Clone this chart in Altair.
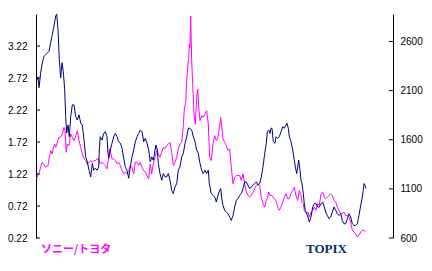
import altair as alt
import pandas as pd

# ---- data (x = time step, values in axis units) ----
ratio_t = [0.7, 2, 3.3, 4.7, 6.3, 7.3, 9.7, 12, 13.3, 14.7, 16.3, 17.3, 18.7, 19.7, 21.3, 23, 24.7, 26.3, 28, 29,
           30.3, 31.3, 33, 34.7, 36.3, 38, 39.7, 41.3, 43, 44.7, 46.3, 48, 49.7, 51.3, 53, 54.7, 56.3, 57.7, 59.3, 61,
           62.7, 64.3, 66, 67.7, 69.3, 71, 72.7, 73.7, 75, 76, 77.7, 79.3, 81, 82.7, 84.3, 86, 87.7, 89.3, 91, 92.7,
           94.3, 96, 97.7, 99.3, 101, 102.7, 104.3, 106, 107.7, 109.3, 111, 112.7, 114.3, 115.7, 117.3, 119, 120.7,
           122.3, 124, 125.7, 127.3, 129, 130.7, 132.3, 134, 135.7, 137.3, 139, 140.7, 142.3, 144, 145.7, 147.3,
           148.3, 149.7, 150.7, 151.7, 152.7, 153.3, 154, 154.7, 155.7, 156.7, 158, 159.3, 160.7, 161.7, 163, 164,
           165.7, 167.3, 169, 170.7, 172.3, 173.7, 175.3, 177, 178.7, 180.3, 182, 183.7, 184.7, 186, 187, 188.7,
           190.3, 192, 193.7, 195.3, 197, 198.7, 200.3, 202, 203.7, 205.3, 207, 208.7, 210.3, 212, 213.7, 215.3,
           217, 218.7, 220.3, 222, 223.7, 225.3, 227, 228.7, 230.3, 231.7, 232.7, 234, 236, 238.3, 240, 241.7,
           243.3, 245, 246.7, 248.3, 250, 251.7, 253.3, 255, 256.7, 258.3, 260, 261.7, 263.3, 265, 266, 267.3,
           268.3, 269.3, 270.7, 272, 273.3, 275, 276.7, 278.3, 280, 281.7, 283.3, 285, 286.7, 288.3, 289.7, 291.3,
           293, 294.7, 296.3, 298, 299.7, 301.3, 303, 304.7, 306.3, 308, 309.7, 311.3, 313, 314.7, 316.3, 318,
           319.7, 321.3, 323, 324.7, 326.3, 328, 329.3]
ratio_v = [1.145, 1.223, 1.248, 1.326, 1.404, 1.379, 1.326, 1.352, 1.481, 1.586, 1.534, 1.637, 1.690, 1.637, 1.715,
           1.793, 1.793, 1.846, 1.948, 1.897, 1.559, 1.690, 1.663, 1.846, 1.793, 1.741, 1.819, 1.897, 1.741, 1.637,
           1.534, 1.456, 1.430, 1.379, 1.404, 1.430, 1.404, 1.430, 1.430, 1.456, 1.456, 1.379, 1.404, 1.379, 1.352,
           1.301, 1.481, 1.612, 1.534, 1.456, 1.456, 1.430, 1.379, 1.404, 1.352, 1.274, 1.223, 1.248, 1.223, 1.274,
           1.352, 1.326, 1.223, 1.404, 1.404, 1.352, 1.404, 1.326, 1.274, 1.248, 1.196, 1.145, 1.379, 1.223, 1.379,
           1.481, 1.586, 1.534, 1.481, 1.559, 1.637, 1.612, 1.663, 1.690, 1.715, 1.559, 1.352, 1.404, 1.481, 1.612,
           1.690, 1.715, 1.975, 2.235, 2.338, 2.676, 2.883, 3.038, 3.247, 3.194, 3.687, 2.987, 2.624, 2.157, 2.001,
           2.416, 2.546, 2.208, 2.053, 2.131, 2.104, 2.157, 2.208, 2.001, 1.481, 1.430, 1.690, 1.819, 1.741, 1.793,
           1.975, 2.104, 1.924, 1.768, 1.715, 1.663, 1.586, 1.612, 1.326, 1.067, 1.170, 1.196, 1.196, 1.196, 1.119,
           1.223, 1.067, 0.937, 0.885, 0.859, 0.885, 0.937, 0.989, 1.041, 1.067, 1.041, 0.859, 0.756, 0.703, 0.807,
           0.859, 0.937, 0.885, 0.885, 0.834, 0.807, 0.703, 0.652, 0.703, 0.781, 0.859, 0.911, 0.834, 0.834, 0.911,
           0.963, 1.014, 0.885, 0.807, 0.963, 0.885, 0.781, 0.756, 0.652, 0.625, 0.600, 0.625, 0.547, 0.625, 0.652,
           0.703, 0.652, 0.756, 0.729, 0.911, 0.937, 0.859, 0.834, 0.859, 0.885, 0.911, 0.885, 0.807, 0.781, 0.703,
           0.652, 0.600, 0.600, 0.625, 0.574, 0.574, 0.547, 0.469, 0.340, 0.314, 0.289, 0.236, 0.262, 0.314, 0.340,
           0.340, 0.314]

topix_t = [0.7, 2, 3, 4.7, 6.3, 8, 9.7, 13, 14.7, 16.3, 18, 19.7, 20.7, 22, 23.3, 24.7, 26, 27.3, 28.7, 29.7, 30.7,
           32, 33.3, 34.7, 36.3, 38, 39.7, 41.3, 43, 44.7, 46.3, 48, 49.7, 51.3, 53, 54.7, 56.3, 57.7, 59.3, 61, 62.7,
           63.3, 64.3, 66, 67.7, 69.3, 71, 72, 72.7, 74.3, 76, 77.7, 79.3, 81, 82.7, 84.3, 86, 87.7, 89.3, 91, 92.7,
           94.3, 96, 97.7, 99.3, 101, 102.7, 104.3, 106, 107.7, 109.3, 111, 112.7, 114.3, 115.7, 117.3, 119, 120,
           121.3, 122.3, 124, 125.7, 127.3, 129, 130.7, 132.3, 134, 135.7, 137.3, 139, 140.7, 142.3, 144, 145.7,
           147.3, 149, 150.7, 152.3, 154, 155.7, 157.3, 159, 160.7, 162.3, 164, 165.7, 167.3, 169, 170.7, 172.3,
           173.3, 175.3, 177, 178.7, 180.3, 182, 183.7, 184.7, 186, 187, 188.7, 190.3, 192, 193.7, 195.3, 197,
           198.7, 200.3, 202, 203.7, 205.3, 207, 208.7, 210.3, 212, 213.7, 215.3, 217, 218.7, 220.3, 222, 223.7,
           225.3, 227, 228.7, 230.3, 231.3, 232.7, 234, 235, 236, 237.3, 239, 240, 241.7, 243.3, 245, 246.7, 248.3,
           250, 251, 252.3, 253.3, 255, 256.7, 258.3, 259.3, 260.7, 261.7, 262.7, 264, 265, 266, 267.3, 268.3,
           269.3, 270.7, 272, 273.3, 275, 276.7, 278.3, 280, 281.7, 283.3, 285, 286.7, 288.3, 289.7, 291.3, 293,
           294.7, 296.3, 298, 299.7, 301.3, 303, 304.7, 306.3, 308, 309.7, 311.3, 313, 314.7, 316.3, 318, 319.7,
           321.3, 323, 324.7, 326.3, 327.3, 328, 329, 330]
topix_v = [2200, 2240, 2130, 2282, 2384, 2449, 2466, 2500, 2589, 2671, 2755, 2860, 2878, 2722, 2415, 2231, 2384, 2295,
           2108, 1835, 1668, 1750, 1631, 1835, 1955, 1955, 1835, 1801, 1853, 1771, 1750, 1597, 1426, 1375, 1290, 1222,
           1359, 1290, 1311, 1290, 1324, 1495, 1631, 1597, 1665, 1682, 1631, 1464, 1413, 1495, 1566, 1631, 1665, 1631,
           1580, 1566, 1515, 1413, 1324, 1290, 1208, 1324, 1426, 1495, 1580, 1631, 1665, 1699, 1682, 1580, 1614, 1566,
           1495, 1375, 1426, 1392, 1495, 1546, 1495, 1359, 1256, 1188, 1256, 1222, 1222, 1256, 1188, 1086, 1052, 1120,
           1154, 1290, 1324, 1426, 1461, 1563, 1631, 1717, 1717, 1699, 1631, 1580, 1495, 1461, 1359, 1290, 1256, 1290,
           1256, 1290, 1154, 1052, 1035, 1017, 966, 1035, 1086, 1103, 983, 932, 881, 864, 847, 813, 779, 830, 915,
           983, 1001, 1035, 1052, 1103, 1171, 1171, 1137, 1103, 1120, 1137, 1154, 1171, 1137, 1154, 1222, 1324, 1461,
           1563, 1682, 1699, 1665, 1717, 1717, 1580, 1563, 1631, 1614, 1631, 1682, 1733, 1717, 1750, 1768, 1717, 1631,
           1580, 1495, 1392, 1324, 1256, 1324, 1392, 1290, 1188, 1154, 1052, 950, 881, 847, 813, 762, 813, 915, 950,
           950, 915, 915, 950, 966, 915, 864, 830, 796, 813, 864, 915, 881, 847, 830, 847, 779, 745, 745, 796, 847,
           813, 745, 728, 728, 745, 830, 932, 1017, 1086, 1154, 1137, 1103]

left_ticks = [0.22, 0.72, 1.22, 1.72, 2.22, 2.72, 3.22]
right_ticks = [600, 1100, 1600, 2100, 2600]
ratio_label = ["ソニー/トヨタ"]
topix_label = ["TOPIX"]

W, H = 357, 224
xs = alt.Scale(domain=[0, 357], nice=False, zero=False)
ls = alt.Scale(domain=[0.22, 3.72], nice=False, zero=False)
rs = alt.Scale(domain=[600, 2880], nice=False, zero=False)

axis_common = dict(tickSize=0, domainColor="black", domainWidth=1, labelColor="black",
                   labelFont="Liberation Sans", labelFontSize=10, grid=False, title=None)
left_axis = alt.Axis(orient="left", values=left_ticks, format=".2f", labelPadding=9, **axis_common)
right_axis = alt.Axis(orient="right", values=right_ticks, format="d", labelPadding=7, **axis_common)

ratio_df = pd.DataFrame({"t": ratio_t, "v": ratio_v})
topix_df = pd.DataFrame({"t": topix_t, "v": topix_v})

ratio_line = alt.Chart(ratio_df).mark_line(color="#FF00FF", strokeWidth=1).encode(
    x=alt.X("t:Q", scale=xs, axis=None),
    y=alt.Y("v:Q", scale=ls, axis=left_axis),
)
ratio_ticks = alt.Chart(pd.DataFrame({"v": left_ticks})).mark_rule(color="black", strokeWidth=1).encode(
    x=alt.value(0), x2=alt.value(4),
    y=alt.Y("v:Q", scale=ls, axis=left_axis),
)
topix_line = alt.Chart(topix_df).mark_line(color="#000080", strokeWidth=1).encode(
    x=alt.X("t:Q", scale=xs, axis=None),
    y=alt.Y("v:Q", scale=rs, axis=right_axis),
)
topix_ticks = alt.Chart(pd.DataFrame({"v": right_ticks})).mark_rule(color="black", strokeWidth=1).encode(
    x=alt.value(W - 4), x2=alt.value(W),
    y=alt.Y("v:Q", scale=rs, axis=right_axis),
)

label_r = alt.Chart(pd.DataFrame({"s": ratio_label})).mark_text(
    align="left", baseline="middle", font="Noto Sans CJK JP", fontSize=11, fontWeight="bold", color="#FF00FF"
).encode(text="s:N", x=alt.value(5), y=alt.value(235.5))
label_t = alt.Chart(pd.DataFrame({"s": topix_label})).mark_text(
    align="left", baseline="middle", font="Liberation Serif", fontSize=13, fontWeight="bold", color="#003366"
).encode(text="s:N", x=alt.value(270), y=alt.value(234.5))

left_group = alt.layer(ratio_line, ratio_ticks)
right_group = alt.layer(topix_line, topix_ticks)

chart = alt.layer(left_group, right_group, label_r, label_t).resolve_scale(y="independent").properties(
    width=W, height=H, autosize="none",
    padding={"left": 36, "top": 14, "right": 39, "bottom": 33},
    background="white",
).configure_view(stroke=None)

chart.save("out.html", embed_options={"renderer": "svg", "actions": False})
